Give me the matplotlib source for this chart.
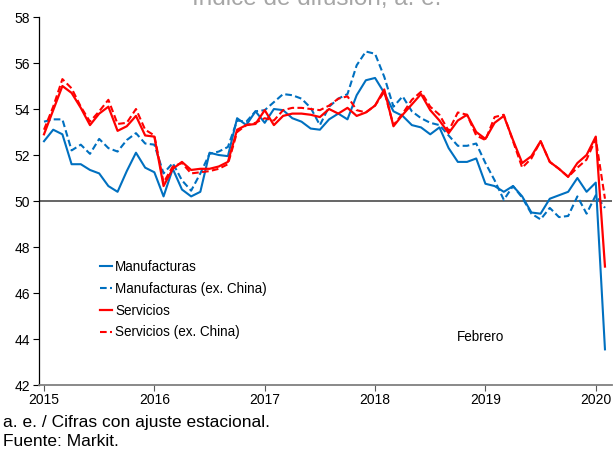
import numpy as np
import matplotlib
matplotlib.use('Agg')
import matplotlib.pyplot as plt

plt.rcParams['font.family'] = ['Liberation Sans', 'DejaVu Sans']

# meses desde enero 2015 hasta febrero 2020
fechas = 2015 + np.arange(62) / 12.0

manufacturas = [52.6, 53.1, 52.9, 51.6, 51.6, 51.35, 51.2, 50.65, 50.4, 51.3, 52.1, 51.45,
                51.25, 50.2, 51.4, 50.5, 50.2, 50.4, 52.1, 52.0, 51.95, 53.6, 53.3, 53.9,
                53.4, 54.0, 53.95, 53.6, 53.45, 53.15, 53.1, 53.55, 53.8, 53.55, 54.6, 55.25,
                55.35, 54.7, 53.9, 53.7, 53.3, 53.2, 52.9, 53.2, 52.3, 51.7, 51.7, 51.85,
                50.75, 50.65, 50.4, 50.65, 50.2, 49.5, 49.45, 50.1, 50.25, 50.4, 51.0, 50.4,
                50.8, 43.55]
manufacturas_ex = [53.45, 53.55, 53.55, 52.2, 52.45, 52.05, 52.7, 52.3, 52.15, 52.65, 52.95, 52.5,
                   52.45, 51.2, 51.65, 50.9, 50.45, 51.2, 52.05, 52.15, 52.35, 53.5, 53.45, 53.9,
                   53.95, 54.3, 54.65, 54.6, 54.45, 54.05, 53.3, 54.1, 54.45, 54.65, 55.9, 56.5,
                   56.4, 55.4, 54.1, 54.55, 53.9, 53.6, 53.4, 53.3, 52.85, 52.4, 52.4, 52.5,
                   51.65, 50.9, 50.05, 50.65, 50.15, 49.45, 49.2, 49.7, 49.3, 49.35, 50.2, 49.45,
                   50.25, 49.7]
servicios = [52.9, 53.95, 55.0, 54.7, 54.05, 53.3, 53.8, 54.1, 53.05, 53.25, 53.7, 52.85,
             52.8, 50.65, 51.4, 51.7, 51.35, 51.4, 51.4, 51.5, 51.7, 53.1, 53.3, 53.35,
             53.95, 53.3, 53.7, 53.8, 53.8, 53.75, 53.65, 54.0, 53.8, 54.05, 53.7, 53.85,
             54.15, 54.85, 53.25, 53.75, 54.2, 54.65, 53.95, 53.5, 52.95, 53.5, 53.75, 53.0,
             52.7, 53.4, 53.7, 52.65, 51.65, 51.95, 52.6, 51.7, 51.4, 51.05, 51.65, 52.0,
             52.8, 47.15]
servicios_ex = [53.1, 54.1, 55.3, 54.9, 54.1, 53.45, 53.9, 54.4, 53.35, 53.4, 54.0, 53.1,
                52.85, 50.8, 51.5, 51.65, 51.2, 51.25, 51.3, 51.4, 51.6, 53.0, 53.3, 53.4,
                53.6, 53.5, 53.95, 54.05, 54.05, 54.0, 53.95, 54.15, 54.45, 54.55, 53.95, 53.85,
                54.15, 54.75, 53.3, 53.8, 54.4, 54.75, 54.1, 53.75, 53.05, 53.85, 53.75, 52.85,
                52.65, 53.65, 53.75, 52.6, 51.45, 51.85, 52.6, 51.7, 51.4, 51.05, 51.45, 51.8,
                52.7, 50.1]

azul = '#0070C0'
rojo = '#FF0000'
guiones = (0, (3.2, 1.6))

fig = plt.figure(figsize=(6.13, 4.51), dpi=100)
ax = fig.add_axes([0.0644, 0.1463, 0.9336, 0.816])

ax.axhline(50, color='#595959', lw=1.3, zorder=1)

ax.plot(fechas, manufacturas, color=azul, lw=1.5, label='Manufacturas')
ax.plot(fechas, manufacturas_ex, color=azul, lw=1.5, ls=guiones, label='Manufacturas (ex. China)')
ax.plot(fechas, servicios, color=rojo, lw=1.6, label='Servicios')
ax.plot(fechas, servicios_ex, color=rojo, lw=1.5, ls=guiones, label='Servicios (ex. China)')

ax.set_ylim(42, 58)
ax.set_xlim(2014.959, 2020.145)
ax.set_yticks(range(42, 59, 2))
ax.set_xticks(range(2015, 2021))

for lado in ['top', 'right']:
    ax.spines[lado].set_visible(False)
ax.spines['left'].set_color('black')
ax.spines['left'].set_linewidth(0.9)
ax.spines['bottom'].set_color('#808080')
ax.spines['bottom'].set_linewidth(1.3)
ax.tick_params(axis='y', direction='out', length=4, width=0.8, labelsize=10, pad=3)
ax.tick_params(axis='x', direction='out', length=4, width=0.8, colors='#595959',
               labelcolor='black', labelsize=10, pad=2)

leg = ax.legend(loc='upper left', bbox_to_anchor=(0.105, 0.34), frameon=False,
                fontsize=9.75, handlelength=0.9, handletextpad=0.25, labelspacing=0.58,
                borderpad=0, borderaxespad=0)

ax.text(2019.17, 44.1, 'Febrero', ha='right', va='center', fontsize=9.75)

fig.text(0.517, 0.989, 'Índice de difusión, a. e.', ha='center', va='baseline',
         fontsize=17.5, color='#A6A6A6')
fig.text(0.005, 0.054, 'a. e. / Cifras con ajuste estacional.', ha='left', va='baseline', fontsize=12.5)
fig.text(0.005, 0.010, 'Fuente: Markit.', ha='left', va='baseline', fontsize=12.5)

fig.savefig('out.png', dpi=100)
